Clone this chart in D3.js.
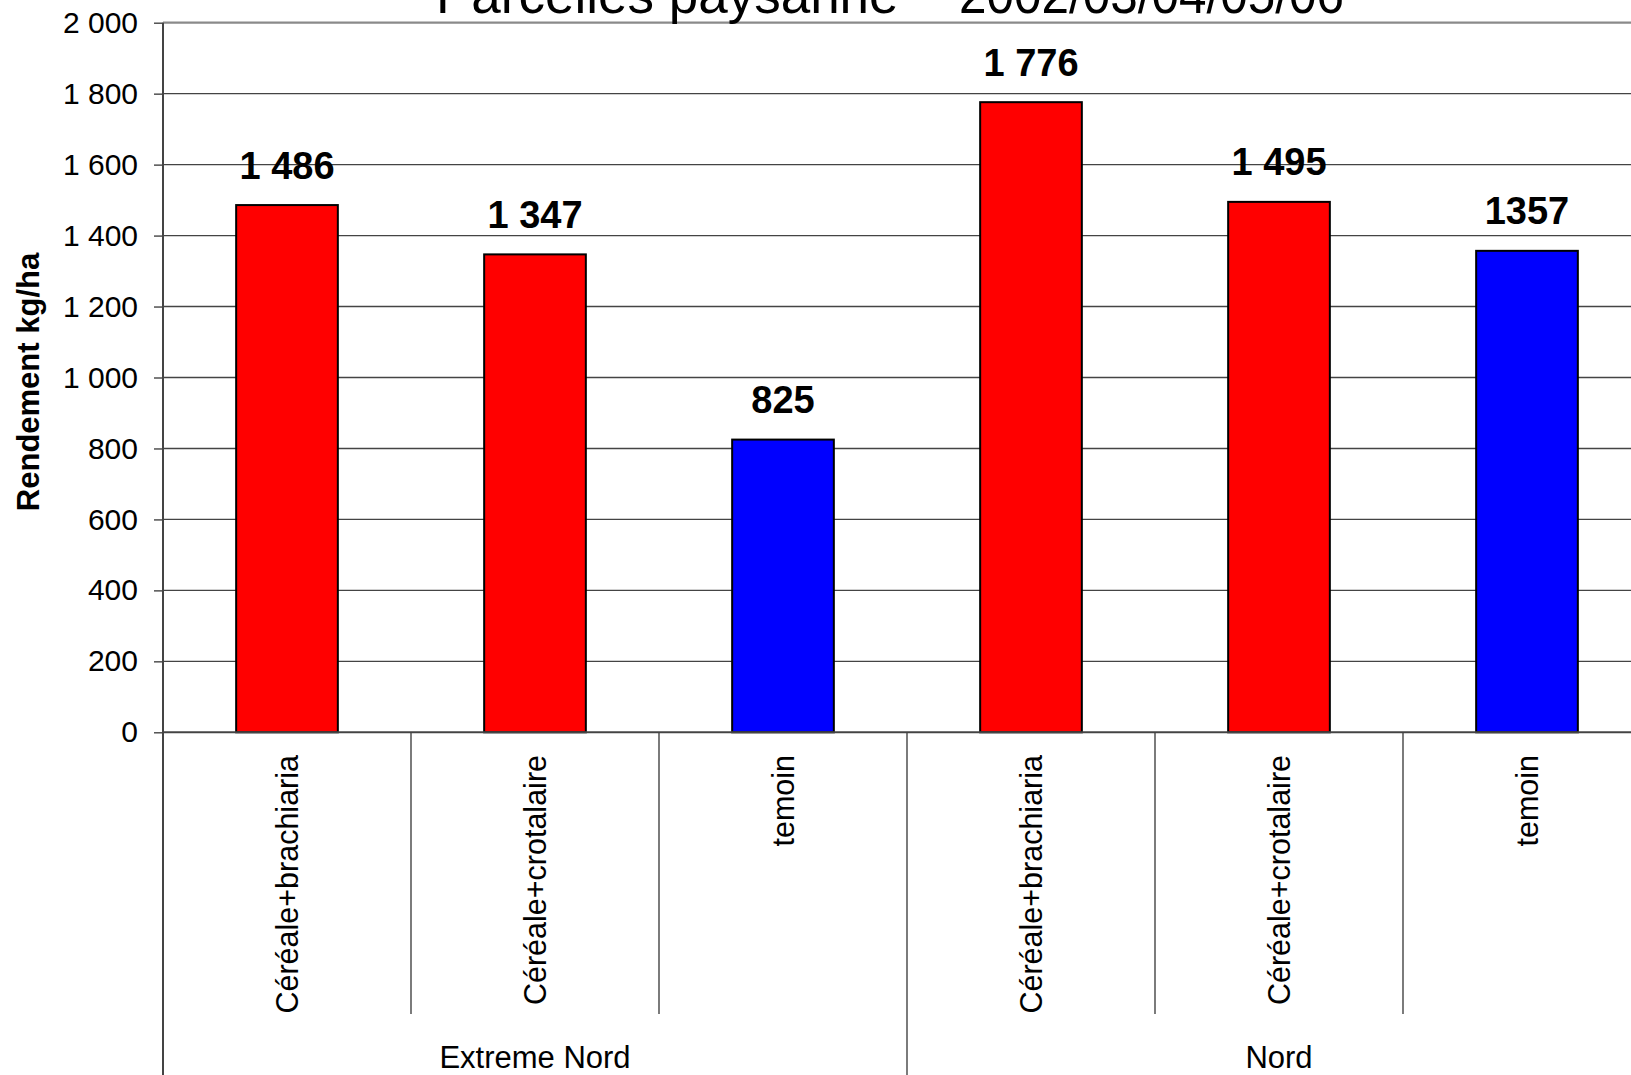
<!DOCTYPE html>
<html>
<head>
<meta charset="utf-8">
<script src="https://cdn.jsdelivr.net/npm/d3@7"></script>
<style>
  html, body { margin: 0; padding: 0; background: #fff; overflow: hidden; }
  svg { display: block; font-family: "Liberation Sans", Arial, sans-serif; }
</style>
</head>
<body>
<svg id="chart" width="1631" height="1075"></svg>
<script>
// ---- data ----
const categories = ["Céréale+brachiaria", "Céréale+crotalaire", "temoin",
                    "Céréale+brachiaria", "Céréale+crotalaire", "temoin"];
const groups = ["Extreme Nord", "Nord"];
const groupOf = [0, 0, 0, 1, 1, 1];
const values = [1486, 1347, 825, 1776, 1495, 1357];
const valueLabels = ["1 486", "1 347", "825", "1 776", "1 495", "1357"];
const barColors = ["#FF0000", "#FF0000", "#0000FF", "#FF0000", "#FF0000", "#0000FF"];
const yTicks = [0, 200, 400, 600, 800, 1000, 1200, 1400, 1600, 1800, 2000];
const yTickLabels = ["0", "200", "400", "600", "800", "1 000", "1 200", "1 400", "1 600", "1 800", "2 000"];
const titleParts = ["Parcelles paysanne", "2002/03/04/05/06"];
const yAxisTitle = "Rendement kg/ha";

// ---- layout ----
const plotLeft = 163, plotRight = 163 + 6 * 248;
const plotTop = 22.7, plotBottom = 732.3;
const svg = d3.select("#chart");
svg.append("rect").attr("width", 1631).attr("height", 1075).attr("fill", "#fff");

const y = d3.scaleLinear().domain([0, 2000]).range([plotBottom, plotTop]);
const xCat = d3.scaleBand().domain(d3.range(categories.length)).range([plotLeft, plotRight]).padding(0);
const xBar = d3.scaleBand().domain(d3.range(categories.length)).range([plotLeft, plotRight])
  .paddingInner(0.59).paddingOuter(0.295);

// gridlines
svg.append("g").selectAll("line").data(yTicks.filter(d => d > 0)).join("line")
  .attr("x1", plotLeft).attr("x2", plotRight)
  .attr("y1", d => y(d)).attr("y2", d => y(d))
  .attr("stroke", d => d === 2000 ? "#8a8a8a" : "#444")
  .attr("stroke-width", d => d === 2000 ? 2.2 : 1.4);

// y axis with ticks
const yAxis = d3.axisLeft(y).tickValues(yTicks)
  .tickFormat((d, i) => yTickLabels[i]).tickSize(9).tickPadding(16);
const gy = svg.append("g").attr("transform", `translate(${plotLeft},0)`).call(yAxis);
gy.select(".domain").remove();
gy.selectAll(".tick line").attr("stroke", "#444").attr("stroke-width", 1.4);
gy.selectAll(".tick text").attr("font-size", 30).attr("fill", "#000")
  .attr("font-family", "'Liberation Sans', Arial, sans-serif");

// y axis line (continues down through category area)
svg.append("line").attr("x1", plotLeft).attr("x2", plotLeft)
  .attr("y1", plotTop).attr("y2", 1075).attr("stroke", "#444").attr("stroke-width", 2);

// bars
svg.append("g").selectAll("rect").data(values).join("rect")
  .attr("x", (d, i) => xBar(i)).attr("width", xBar.bandwidth())
  .attr("y", d => y(d)).attr("height", d => y(0) - y(d))
  .attr("fill", (d, i) => barColors[i])
  .attr("stroke", "#000").attr("stroke-width", 2);

// x axis line
svg.append("line").attr("x1", plotLeft).attr("x2", plotRight)
  .attr("y1", plotBottom).attr("y2", plotBottom).attr("stroke", "#444").attr("stroke-width", 2);

// category separators
const seps = d3.range(1, categories.length + 1);
svg.append("g").selectAll("line").data(seps).join("line")
  .attr("x1", i => i < categories.length ? xCat(i) : plotRight)
  .attr("x2", i => i < categories.length ? xCat(i) : plotRight)
  .attr("y1", plotBottom)
  .attr("y2", i => (i % 3 === 0) ? 1075 : 1014)
  .attr("stroke", "#444").attr("stroke-width", 1.4);

// value labels
svg.append("g").selectAll("text").data(values).join("text")
  .attr("x", (d, i) => xCat(i) + xCat.bandwidth() / 2)
  .attr("y", d => y(d) - 26.5)
  .attr("text-anchor", "middle")
  .attr("font-size", 38).attr("font-weight", "bold").attr("fill", "#000")
  .text((d, i) => valueLabels[i]);

// category labels (rotated)
svg.append("g").selectAll("text").data(categories).join("text")
  .attr("transform", (d, i) => `translate(${xCat(i) + xCat.bandwidth() / 2 + 11},755) rotate(-90)`)
  .attr("text-anchor", "end")
  .attr("font-size", 30.5).attr("fill", "#000")
  .text(d => d);

// group labels
svg.append("g").selectAll("text").data(groups).join("text")
  .attr("x", (d, gi) => {
    const idx = d3.range(categories.length).filter(i => groupOf[i] === gi);
    return (xCat(idx[0]) + xCat(idx[idx.length - 1]) + xCat.bandwidth()) / 2;
  })
  .attr("y", 1068)
  .attr("text-anchor", "middle")
  .attr("font-size", 31).attr("fill", "#000")
  .text(d => d);

// y axis title
svg.append("text")
  .attr("transform", "translate(39,382) rotate(-90)")
  .attr("text-anchor", "middle")
  .attr("font-size", 31).attr("font-weight", "bold").attr("fill", "#000")
  .text(yAxisTitle);

// title (cut off at top as in reference)
const title = svg.append("text").attr("y", 13).attr("font-size", 53).attr("fill", "#000");
title.append("tspan").attr("x", 436).text(titleParts[0]);
title.append("tspan").attr("x", 959).attr("textLength", 385).attr("lengthAdjust", "spacingAndGlyphs")
  .text(titleParts[1]);
</script>
</body>
</html>
